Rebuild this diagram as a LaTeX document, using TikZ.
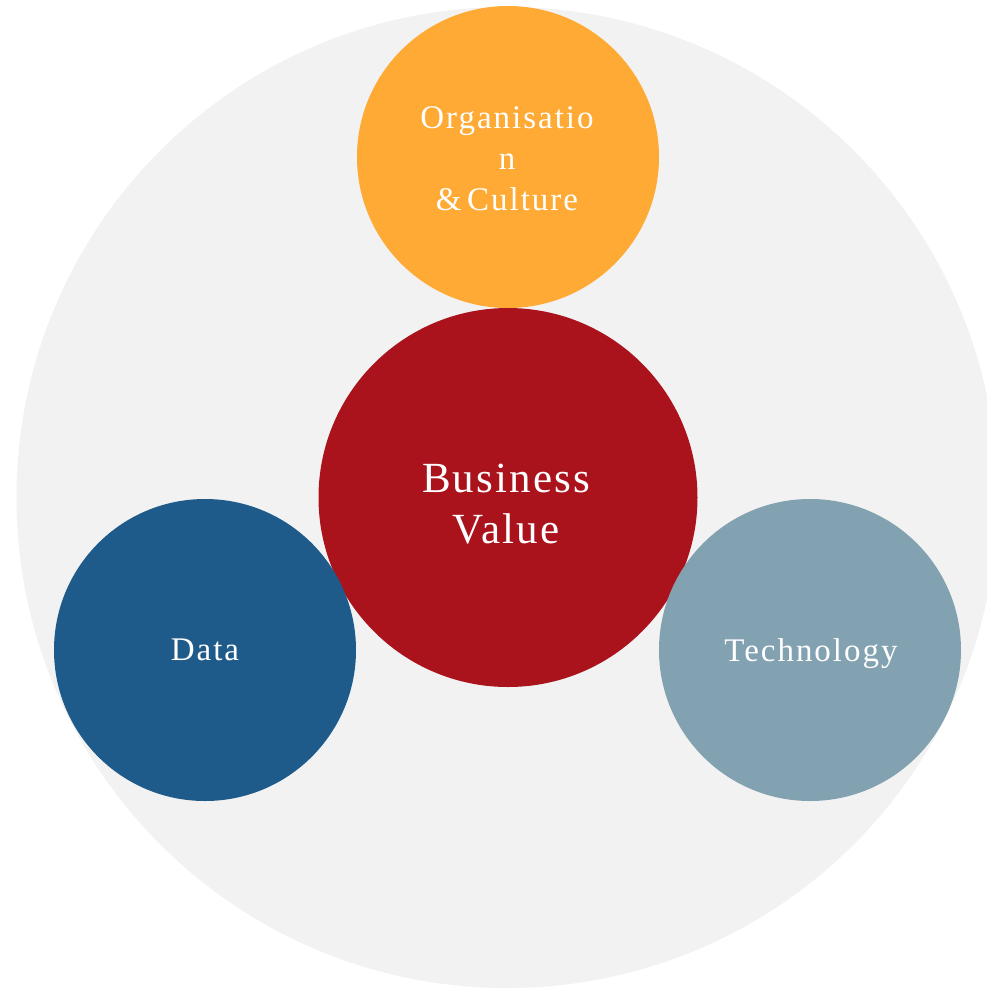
\documentclass[tikz,border=0pt]{standalone}
\usepackage{fontspec}
\setmainfont{Liberation Serif}
\newfontfamily\spacedA[LetterSpace=6]{Liberation Serif}
\newfontfamily\spacedB[LetterSpace=5]{Liberation Serif}
\definecolor{bggray}{HTML}{F2F2F2}
\definecolor{orgorange}{HTML}{FEAA35}
\definecolor{bvred}{HTML}{AB131C}
\definecolor{datablue}{HTML}{1E5A8A}
\definecolor{techgray}{HTML}{82A1B1}
\tikzset{
  disc/.style={circle, draw=none, inner sep=0pt},
  smalltxt/.style={text=white, font=\spacedA\fontsize{33}{41}\selectfont, align=center, inner sep=0pt},
  bigtxt/.style={text=white, font=\spacedB\fontsize{43}{51}\selectfont, align=center, inner sep=0pt}
}
\begin{document}
\begin{tikzpicture}[x=1pt,y=-1pt]
\useasboundingbox (0,0) rectangle (987,989);
\clip (0,0) rectangle (987,989);
\node[disc, fill=bggray, minimum size=981pt] (outer) at (507,497.5) {};
\node[disc, fill=orgorange, minimum size=302pt] (org) at (508,157) {};
\node[disc, fill=bvred, minimum size=379pt] (bv) at (508,497.5) {};
\node[disc, fill=datablue, minimum size=302pt] (data) at (205,650) {};
\node[disc, fill=techgray, minimum size=302pt] (tech) at (810,650) {};
\node[smalltxt, anchor=center] (orgtxt) at (507,159) {Organisatio\\n\\\&\,Culture};
\node[bigtxt, anchor=center] (bvtxt) at (506,504) {Business\\Value};
\node[smalltxt, anchor=base] (datatxt) at (205,660) {Data};
\node[smalltxt, anchor=base] (techtxt) at (811,661) {Technology};
\end{tikzpicture}
\end{document}
